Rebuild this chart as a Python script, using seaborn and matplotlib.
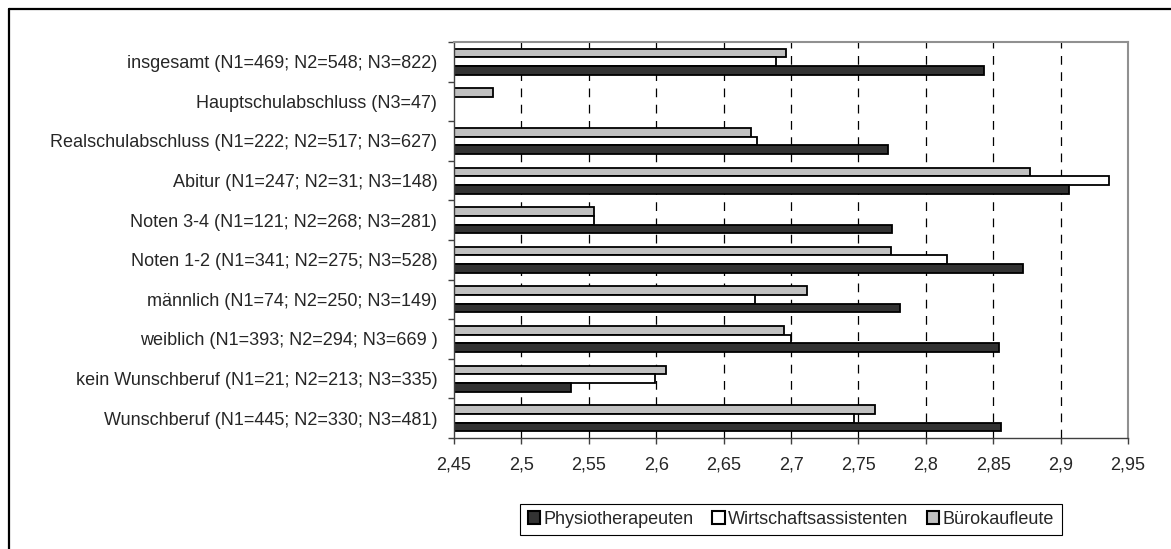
import numpy as np
import pandas as pd
import matplotlib
matplotlib.use("Agg")
import matplotlib.pyplot as plt
from matplotlib.ticker import FixedLocator, FuncFormatter
from matplotlib.patches import Patch
from matplotlib.lines import Line2D
import seaborn as sns

categories = [
    "insgesamt (N1=469; N2=548; N3=822)",
    "Hauptschulabschluss (N3=47)",
    "Realschulabschluss (N1=222; N2=517; N3=627)",
    "Abitur (N1=247; N2=31; N3=148)",
    "Noten 3-4 (N1=121; N2=268; N3=281)",
    "Noten 1-2 (N1=341; N2=275; N3=528)",
    "männlich (N1=74; N2=250; N3=149)",
    "weiblich (N1=393; N2=294; N3=669 )",
    "kein Wunschberuf (N1=21; N2=213; N3=335)",
    "Wunschberuf (N1=445; N2=330; N3=481)",
]
physio = [2.843, np.nan, 2.772, 2.906, 2.775, 2.872, 2.781, 2.854, 2.537, 2.856]
wirtschaft = [2.689, np.nan, 2.675, 2.936, 2.554, 2.816, 2.673, 2.700, 2.599, 2.747]
buero = [2.696, 2.479, 2.670, 2.877, 2.554, 2.774, 2.712, 2.695, 2.607, 2.762]

series_names = ["Physiotherapeuten", "Wirtschaftsassistenten", "Bürokaufleute"]
series_values = [physio, wirtschaft, buero]
colors = {"Physiotherapeuten": "#333333",
          "Wirtschaftsassistenten": "#ffffff",
          "Bürokaufleute": "#c0c0c0"}
x_ticks = [2.45, 2.5, 2.55, 2.6, 2.65, 2.7, 2.75, 2.8, 2.85, 2.9, 2.95]

rows = []
for name, vals in zip(series_names, series_values):
    for cat, v in zip(categories, vals):
        if not np.isnan(v):
            rows.append({"Kategorie": cat, "Gruppe": name, "Wert": v})
df = pd.DataFrame(rows)

sns.set_theme(style="white")
plt.rcParams['font.family'] = ['Liberation Sans', 'DejaVu Sans']
FS = 13

fig = plt.figure(figsize=(11.71, 5.49), dpi=100)
ax = fig.add_axes([454/1171, 1-438/549, (1128-454)/1171, (438-42)/549])

hue_order = ["Bürokaufleute", "Wirtschaftsassistenten", "Physiotherapeuten"]
sns.barplot(data=df, y="Kategorie", x="Wert", hue="Gruppe", order=categories,
            hue_order=hue_order, palette=colors, orient="h", width=0.66,
            edgecolor="black", linewidth=1.3, ax=ax, legend=False, errorbar=None)

ax.set_xlim(2.45, 2.95)
ax.set_ylim(len(categories) - 0.5, -0.5)
ax.set_xlabel("")
ax.set_ylabel("")
ax.xaxis.set_major_locator(FixedLocator(x_ticks))
ax.xaxis.set_major_formatter(FuncFormatter(lambda v, p: f"{v:g}".replace(".", ",")))
ax.tick_params(axis="x", which="major", direction="out", length=4, width=1,
               color="#404040", labelsize=FS, pad=9, bottom=True)
ax.tick_params(axis="y", which="major", length=0, labelsize=FS, pad=12, left=False)
ax.yaxis.set_minor_locator(FixedLocator(np.arange(-0.5, len(categories), 1.0)))
ax.tick_params(axis="y", which="minor", direction="out", length=4, width=1,
               color="#404040", left=True)

for xv in x_ticks[1:-1]:
    ax.axvline(xv, color="black", linestyle=(0, (7, 6)), linewidth=0.9, zorder=0)

for side in ["top", "right"]:
    ax.spines[side].set_color("#909090")
    ax.spines[side].set_linewidth(1.5)
for side in ["left", "bottom"]:
    ax.spines[side].set_color("#404040")
    ax.spines[side].set_linewidth(1.0)
for s in ax.spines.values():
    s.set_visible(True)

handles = [Patch(facecolor=colors[n], edgecolor="black", linewidth=1.5, label=n)
           for n in series_names]
leg = fig.legend(handles=handles, loc="center", bbox_to_anchor=(791/1171, 1-519.5/549),
                 ncol=3, fontsize=FS, frameon=True, fancybox=False, framealpha=1,
                 edgecolor="black", handlelength=0.7, handleheight=0.7,
                 handletextpad=0.2, columnspacing=1.0, borderpad=0.4)
leg.get_frame().set_linewidth(0.8)

# outer frame (top and left visible)
fig.add_artist(Line2D([9/1171, 1.0], [1-9/549, 1-9/549], color="black", linewidth=1.6,
                      transform=fig.transFigure))
fig.add_artist(Line2D([9/1171, 9/1171], [0.0, 1-9/549], color="black", linewidth=1.6,
                      transform=fig.transFigure))

fig.savefig("out.png", dpi=100)
